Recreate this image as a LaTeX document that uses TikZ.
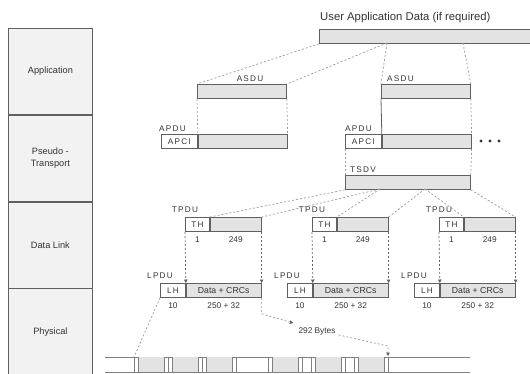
\documentclass[tikz,border=0pt]{standalone}
\usepackage{fontspec}
\setmainfont{Liberation Sans}
\newfontfamily\spaced[LetterSpace=15]{Liberation Sans}
\usetikzlibrary{arrows.meta, positioning}
\definecolor{boxgray}{HTML}{E3E3E3}
\definecolor{laygray}{HTML}{F2F2F2}
\definecolor{edge}{HTML}{606060}
\definecolor{ink}{HTML}{333333}
\definecolor{dash}{HTML}{9A9A9A}
\tikzset{>=stealth}
\tikzset{
  layer/.style={draw=edge, fill=laygray, line width=0.8pt, minimum width=84pt, minimum height=86pt,
    anchor=north west, inner sep=0pt, align=center, text=ink, font=\fontsize{9.2}{12}\selectfont},
  hdr/.style={draw=edge, fill=white, line width=0.8pt, minimum height=14pt, anchor=north west,
    inner sep=0pt, text=ink, font=\spaced\fontsize{8.2}{9}\selectfont},
  dat/.style={hdr, fill=boxgray, font=\fontsize{8.7}{9}\selectfont},
  tag/.style={inner sep=0pt, text=ink, font=\spaced\fontsize{8.2}{9}\selectfont},
  num/.style={inner sep=0pt, text=ink, font=\fontsize{8.3}{9}\selectfont},
  link/.style={draw=dash, line width=0.7pt, dash pattern=on 2pt off 2pt},
  tip/.style={-{Triangle[width=3.5pt,length=3.5pt,fill=edge,color=edge]}},
  drop/.style={link, draw=edge, tip},
  wire/.style={draw=edge!80, line width=0.6pt},
}

\begin{document}
\begin{tikzpicture}[x=1pt, y=-1pt]
    \useasboundingbox (0,0) rectangle (530,373);

    % layers
    \node[layer] (app) at (8,28) {Application};
    \node[layer] (pst) at (app.south west) {Pseudo -\\Transport};
    \node[layer] (dl) at (pst.south west) {Data Link};
    \node[layer] (phy) at (dl.south west) {Physical};

    % user data
    \node[anchor=base west, inner sep=0pt, text=ink, font=\fontsize{11.3}{13}\selectfont] (ttl) at (320,20) {User Application Data (if required)};
    \node[dat, minimum width=214pt] (user) at (319,29) {};
    \coordinate (ucut1) at (387,43);
    \coordinate (ucut2) at (463,43);

    % application
    \node[dat, minimum width=89pt] (asdu1) at (197,84) {};
    \node[dat, minimum width=89pt] (asdu2) at (381,84) {};
    \node[tag, anchor=base] (alab1) at (250,81) {ASDU};
    \node[tag, anchor=base west] (alab2) at (387,81) {ASDU};
    \draw[link] (user.south west) -- (asdu1.north west);
    \draw[link] (ucut1) -- (asdu1.north east);
    \draw[link] (ucut1) -- (asdu2.north west);
    \draw[link] (ucut2) -- (asdu2.north east);

    % pseudo-transport
    \node[hdr, minimum width=36pt] (apci1) at (161,134) {APCI};
    \node[dat, minimum width=89pt] (apd1) at (apci1.north east) {};
    \node[hdr, minimum width=36pt] (apci2) at (345,134) {APCI};
    \node[dat, minimum width=89pt] (apd2) at (apci2.north east) {};
    \node[tag, anchor=base west] (plab1) at (159,131) {APDU};
    \node[tag, anchor=base west] (plab2) at (345,131) {APDU};
    \draw[link] (asdu1.south west) -- (apd1.north west);
    \draw[link] (asdu1.south east) -- (apd1.north east);
    \draw[draw=edge, line width=0.8pt] (asdu2.south west) -- (apd2.north west);
    \draw[link] (asdu2.south east) -- (apd2.north east);
    \foreach \d in {481,490,499}
        \fill[ink] (\d,141) circle [radius=1.6pt];

    \node[dat, minimum width=125pt] (tsdv) at (345,175) {};
    \node[tag, anchor=base west] (slab) at (350,172) {TSDV};
    \draw[link] (apci2.south west) -- (tsdv.north west);
    \draw[link] (apd2.south east) -- (tsdv.north east);
    \coordinate (tcut1) at (380,189);
    \coordinate (tcut2) at (425,189);

    % data link
    \foreach \i in {0,1,2} {
        \pgfmathsetmacro{\lx}{160+127*\i}
        \node[hdr, minimum width=24pt] (th\i) at (\lx+25,217) {TH};
        \node[dat, minimum width=51pt] (tpd\i) at (th\i.north east) {};
        \node[tag, above=4pt of th\i.north west] (tlab\i) {TPDU};
        \node[num, below=5pt of th\i] (tone\i) {1};
        \node[num, below=5pt of tpd\i] (tsz\i) {249};
        \node[hdr, minimum width=25pt] (lh\i) at (\lx,283) {LH};
        \node[dat, minimum width=75pt] (lpd\i) at (lh\i.north east) {Data + CRCs};
        \node[tag, above=4pt of lh\i.north west] (llab\i) {LPDU};
        \node[num, below=5pt of lh\i] (lten\i) {10};
        \node[num, below=5pt of lpd\i] (lsz\i) {250 + 32};
        \draw[drop] (th\i.south west) -- (lh\i.north east);
        \draw[drop] (tpd\i.south east) -- (lpd\i.north east);
    }
    \draw[link] (tsdv.south west) -- (tpd0.north west);
    \draw[link] (tcut1) -- (tpd0.north east);
    \draw[link] (tcut1) -- (tpd1.north west);
    \draw[link] (tcut2) -- (tpd1.north east);
    \draw[link] (tcut2) -- (tpd2.north west);
    \draw[link] (tsdv.south east) -- (tpd2.north east);

    % physical
    \draw[wire] (105,357) -- (470,357);
    \draw[wire] (105,372) -- (470,372);
    \foreach \b in {134,168,202,268,311,354} {
        \fill[boxgray] (\b+4,357) rectangle (\b+30,372);
        \foreach \t in {0,4,30,34}
            \draw[wire] (\b+\t,357) -- (\b+\t,372);
    }
    \coordinate (bitstart) at (134,357);
    \coordinate (bitend) at (388,356);
    \coordinate (bend) at (388,346);
    \draw[link] (lh0.south west) -- (bitstart);

    \node[num] (bytes) at (317,331) {292 Bytes};
    \draw[link, tip] (lpd0.south east) -- ++(0,16) -- ([xshift=-5pt,yshift=4pt]bytes.north west);
    \draw[link, tip] ([xshift=3pt]bytes.south east) -- (bend) -- (bitend);
\end{tikzpicture}
\end{document}
